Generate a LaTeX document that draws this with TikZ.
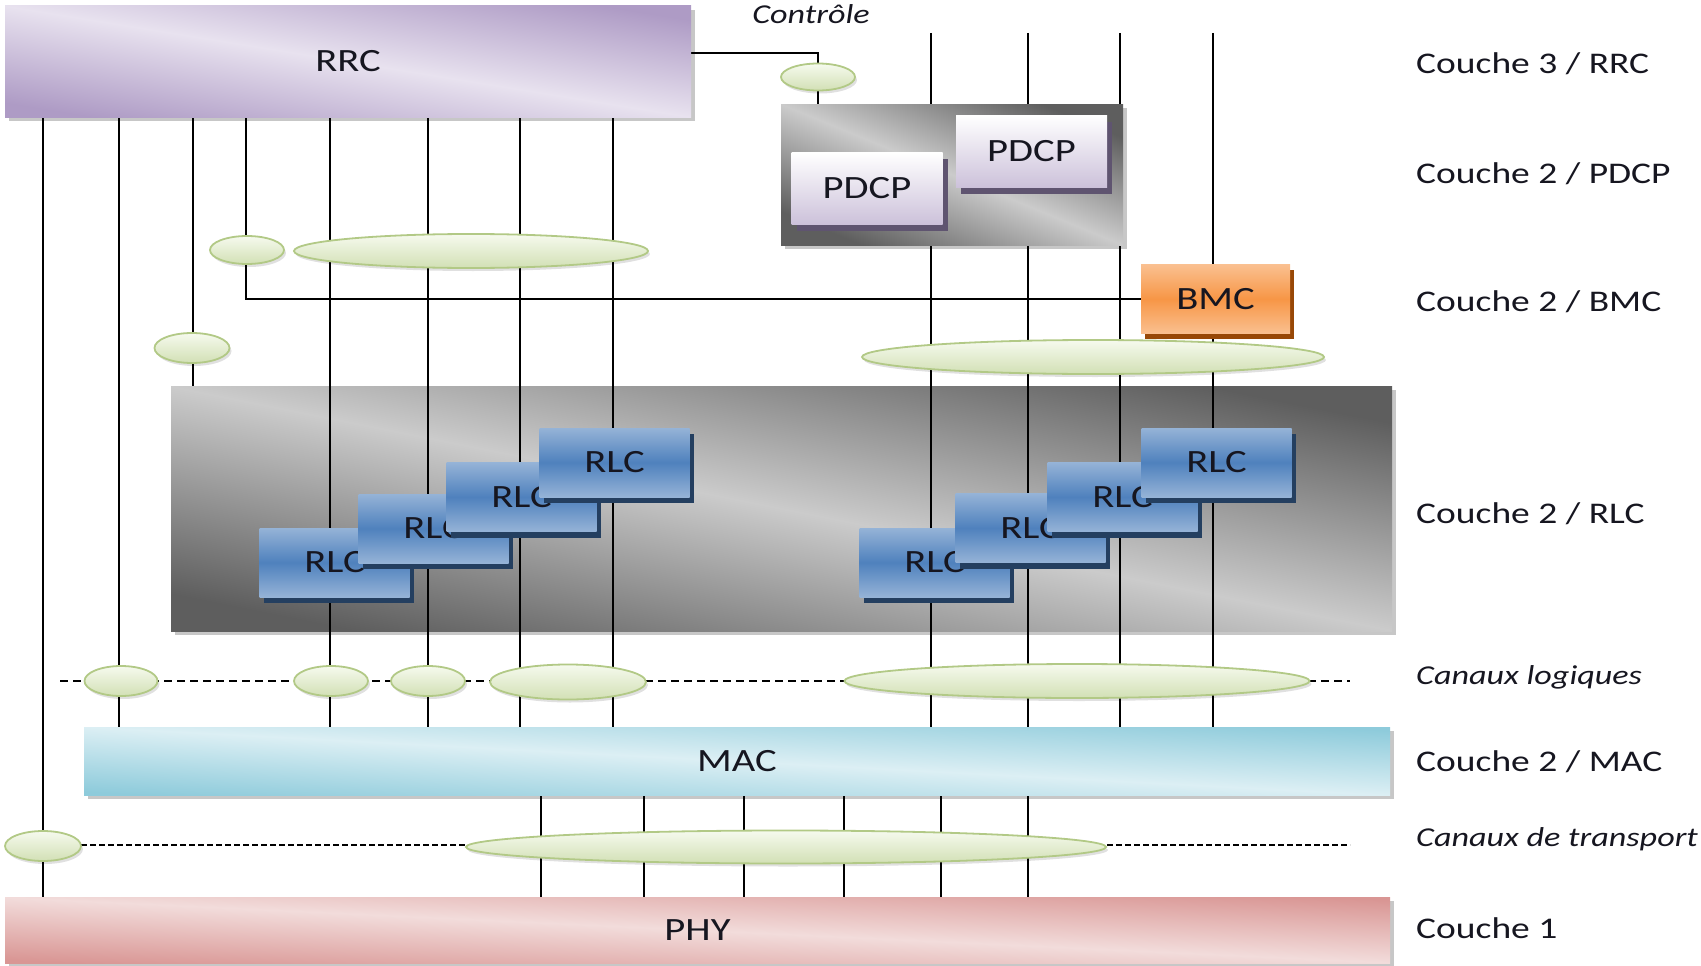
\documentclass[tikz,border=0pt]{standalone}
\usepackage{fontspec}
\setmainfont{Carlito}[FakeStretch=1.25]
\usetikzlibrary{shapes.geometric,shadows,calc}
\pgfdeclarelayer{bg}
\pgfdeclarelayer{wires}
\pgfsetlayers{bg,wires,main}
\definecolor{rrcD}{HTML}{AE9BC5}
\definecolor{rrcL}{HTML}{E8E2EF}
\definecolor{macD}{HTML}{8ECBDB}
\definecolor{macL}{HTML}{DCEFF4}
\definecolor{phyD}{HTML}{D99694}
\definecolor{phyL}{HTML}{F2DCDB}
\definecolor{grD}{HTML}{5E5E5E}
\definecolor{grL}{HTML}{CBCBCB}
\definecolor{rlcL}{HTML}{95B3D7}
\definecolor{rlcD}{HTML}{4F81BD}
\definecolor{rlcS}{HTML}{243F60}
\definecolor{bmcL}{HTML}{FAC090}
\definecolor{bmcD}{HTML}{F79646}
\definecolor{bmcS}{HTML}{984807}
\definecolor{pdcpD}{HTML}{CCC1DA}
\definecolor{pdcpS}{HTML}{5F5470}
\definecolor{ellL}{HTML}{F6FAEE}
\definecolor{ellD}{HTML}{D2E0B5}
\definecolor{ellB}{HTML}{B2C986}
\definecolor{txtc}{HTML}{161620}
\tikzset{
  wire/.style={draw=black, line width=1.6pt},
  logdash/.style={draw=black, line width=1.5pt, dash pattern=on 8pt off 5pt},
  trdash/.style={draw=black, line width=1.5pt, dash pattern=on 6pt off 3pt},
  boxtxt/.style={text=txtc, font=\fontsize{32.5}{38}\selectfont},
  bar/.style={rectangle, inner sep=0pt, outer sep=0pt, boxtxt},
  diag/.style n args={3}{top color=#1, bottom color=#1, middle color=#2, shading angle=#3},
  softshadow/.style={drop shadow={shadow xshift=4pt, shadow yshift=-4pt, fill=black, opacity=0.22}},
  grpbox/.style={bar, softshadow},
  pdcpbox/.style={bar, minimum width=151pt, minimum height=72pt, top color=white, bottom color=pdcpD,
    drop shadow={shadow xshift=5pt, shadow yshift=-6pt, fill=pdcpS, opacity=1}},
  bmcbox/.style={bar, minimum width=149pt, minimum height=69pt, top color=bmcL, bottom color=bmcL, middle color=bmcD,
    drop shadow={shadow xshift=4pt, shadow yshift=-5pt, fill=bmcS, opacity=1}},
  rlcbox/.style={bar, minimum width=150pt, minimum height=69pt, top color=rlcL, bottom color=rlcL, middle color=rlcD,
    drop shadow={shadow xshift=4pt, shadow yshift=-6pt, fill=rlcS, opacity=1}},
  ell/.style={ellipse, inner sep=0pt, outer sep=0pt, top color=ellL, bottom color=ellD, draw=ellB, line width=1.8pt,
    drop shadow={shadow xshift=2pt, shadow yshift=-3pt, fill=black, opacity=0.12}},
  lbl/.style={anchor=west, inner sep=0pt, text=txtc, font=\fontsize{30}{35}\selectfont},
  ilbl/.style={anchor=west, inner sep=0pt, text=txtc, font=\fontsize{27.3}{32}\selectfont\itshape},
}
\begin{document}
\begin{tikzpicture}[x=1pt,y=-1pt]
\useasboundingbox (0,0) rectangle (1701,966);

\begin{pgfonlayer}{bg}
\node[grpbox, diag={grD}{grL}{-11.3}, minimum width=1221pt, minimum height=245pt] (rlcgrp) at (781.5,508.5) {};
\end{pgfonlayer}

% layer boxes
\node[bar, minimum width=686pt, minimum height=111pt, diag={rrcD}{rrcL}{-9.2}, softshadow] (rrc) at (348,61.5) {RRC};
\node[grpbox, diag={grD}{grL}{-22.4}, minimum width=342pt, minimum height=141pt] (pdcpgrp) at (952,174.5) {};
\node[pdcpbox] (pdcp1) at (867,188.5) {PDCP};
\node[pdcpbox] (pdcp2) at (1031.5,151.5) {PDCP};
\node[bmcbox] (bmc) at (1215.5,299) {BMC};

\node[rlcbox] (rlcA) at (334.5,562.5) {RLC};
\node[rlcbox] (rlcB) at (433.5,528.5) {RLC};
\node[rlcbox] (rlcC) at (521.5,497) {RLC};
\node[rlcbox] (rlcD) at (614.5,462.5) {RLC};
\node[rlcbox] (rlcE) at (934.5,562.5) {RLC};
\node[rlcbox] (rlcF) at (1030.5,528) {RLC};
\node[rlcbox] (rlcG) at (1122.5,497) {RLC};
\node[rlcbox] (rlcH) at (1216.5,462.5) {RLC};

\node[bar, minimum width=1306pt, minimum height=68pt, diag={macD}{macL}{-3}, softshadow] (mac) at (737,761) {MAC};
\node[bar, minimum width=1385pt, minimum height=66pt, diag={phyD}{phyL}{-2.7}, softshadow] (phy) at (697.5,930) {PHY};

% channel ellipses
\node[ell, minimum width=74pt, minimum height=27pt] (ctl) at (818,77) {};
\node[ell, minimum width=74pt, minimum height=28pt] (e1) at (247,250) {};
\node[ell, minimum width=354pt, minimum height=34pt] (e2) at (471,251) {};
\node[ell, minimum width=75pt, minimum height=30pt] (e3) at (192,348) {};
\node[ell, minimum width=462pt, minimum height=34pt] (e4) at (1093,357) {};
\node[ell, minimum width=73pt, minimum height=30pt] (l1) at (121,681) {};
\node[ell, minimum width=74pt, minimum height=30pt] (l2) at (331,681) {};
\node[ell, minimum width=74pt, minimum height=30pt] (l3) at (428,681) {};
\node[ell, minimum width=156pt, minimum height=35pt] (l4) at (568,682) {};
\node[ell, minimum width=465pt, minimum height=34pt] (l5) at (1077,681) {};
\node[ell, minimum width=76pt, minimum height=30pt] (t1) at (43,846) {};
\node[ell, minimum width=640pt, minimum height=33pt] (t2) at (786,847) {};

% labels
\node[ilbl, anchor=center] (ctltxt) at (811,14) {Contrôle};
\node[lbl] (lab1) at (1416,64) {Couche 3 / RRC};
\node[lbl] (lab2) at (1416,174) {Couche 2 / PDCP};
\node[lbl] (lab3) at (1416,302) {Couche 2 / BMC};
\node[lbl] (lab4) at (1416,514) {Couche 2 / RLC};
\node[ilbl] (lab5) at (1416,677) {Canaux logiques};
\node[lbl] (lab6) at (1416,762) {Couche 2 / MAC};
\node[ilbl] (lab7) at (1416,839) {Canaux de transport};
\node[lbl] (lab8) at (1416,928) {Couche 1};

\coordinate (top) at (0,33);
\coordinate (lgL) at (60,681);
\coordinate (lgR) at (1350,681);
\coordinate (trL) at (81,845);
\coordinate (trR) at (1350,845);

\begin{pgfonlayer}{wires}
\draw[logdash] (lgL) -- (lgR);
\draw[trdash] (trL) -- (trR);
\draw[wire] (43,0 |- rrc.south) -- (43,0 |- phy.north);
\draw[wire] (119,0 |- rrc.south) -- (119,0 |- mac.north);
\draw[wire] (193,0 |- rrc.south) -- (193,0 |- rlcgrp.north);
\draw[wire] (246,0 |- rrc.south) |- (bmc.west);
\foreach \x in {330,428,520,613}
  \draw[wire] (\x,0 |- rrc.south) -- (\x,0 |- mac.north);
\foreach \x in {931,1028,1120,1213}
  \draw[wire] (\x,0 |- top) -- (\x,0 |- mac.north);
\draw[wire] ($(rrc.east)+(0,-8.5)$) -| (818,0 |- pdcpgrp.north);
\foreach \x in {541,644,744,844,941,1028}
  \draw[wire] (\x,0 |- mac.south) -- (\x,0 |- phy.north);
\end{pgfonlayer}
\end{tikzpicture}
\end{document}
